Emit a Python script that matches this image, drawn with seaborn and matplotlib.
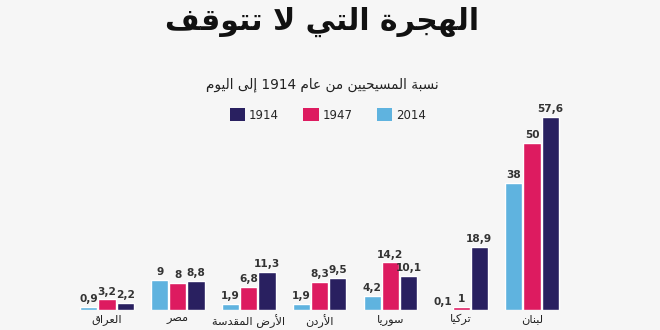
import re
import matplotlib
matplotlib.use("Agg")
import matplotlib.pyplot as plt
from matplotlib.patches import Patch
import seaborn as sns
import pandas as pd

# ---------------- data ----------------
countries = ["العراق", "مصر", "الأرض المقدسة", "الأردن", "سوريا", "تركيا", "لبنان"]
years = ["2014", "1947", "1914"]
v2014 = [0.9, 9, 1.9, 1.9, 4.2, 0.1, 38]
v1947 = [3.2, 8, 6.8, 8.3, 14.2, 1, 50]
v1914 = [2.2, 8.8, 11.3, 9.5, 10.1, 18.9, 57.6]
title_text = "الهجرة التي لا تتوقف"
subtitle_text = "نسبة المسيحيين من عام 1914 إلى اليوم"
legend_order = ["1914", "1947", "2014"]

colors = {"2014": "#5fb3df", "1947": "#dd1b60", "1914": "#292060"}

# ------------- minimal Arabic shaping + RTL ordering -------------
FORMS = {
    "ا": (0xFE8D, 0xFE8E), "أ": (0xFE83, 0xFE84), "إ": (0xFE87, 0xFE88),
    "ب": (0xFE8F, 0xFE90, 0xFE91, 0xFE92), "ة": (0xFE93, 0xFE94),
    "ت": (0xFE95, 0xFE96, 0xFE97, 0xFE98), "ج": (0xFE9D, 0xFE9E, 0xFE9F, 0xFEA0),
    "ح": (0xFEA1, 0xFEA2, 0xFEA3, 0xFEA4), "د": (0xFEA9, 0xFEAA),
    "ر": (0xFEAD, 0xFEAE), "س": (0xFEB1, 0xFEB2, 0xFEB3, 0xFEB4),
    "ص": (0xFEB9, 0xFEBA, 0xFEBB, 0xFEBC), "ض": (0xFEBD, 0xFEBE, 0xFEBF, 0xFEC0),
    "ع": (0xFEC9, 0xFECA, 0xFECB, 0xFECC), "ف": (0xFED1, 0xFED2, 0xFED3, 0xFED4),
    "ق": (0xFED5, 0xFED6, 0xFED7, 0xFED8), "ك": (0xFED9, 0xFEDA, 0xFEDB, 0xFEDC),
    "ل": (0xFEDD, 0xFEDE, 0xFEDF, 0xFEE0), "م": (0xFEE1, 0xFEE2, 0xFEE3, 0xFEE4),
    "ن": (0xFEE5, 0xFEE6, 0xFEE7, 0xFEE8), "ه": (0xFEE9, 0xFEEA, 0xFEEB, 0xFEEC),
    "و": (0xFEED, 0xFEEE), "ى": (0xFEEF, 0xFEF0, 0xFBE8, 0xFBE9),
    "ي": (0xFEF1, 0xFEF2, 0xFEF3, 0xFEF4),
}
LAMALEF = {"ا": (0xFEFB, 0xFEFC), "أ": (0xFEF7, 0xFEF8), "إ": (0xFEF9, 0xFEFA)}


def shape(text):
    out = []
    i, n = 0, len(text)
    while i < n:
        c = text[i]
        prev = text[i - 1] if i > 0 else None
        nxt = text[i + 1] if i + 1 < n else None
        if c not in FORMS:
            out.append(c)
            i += 1
            continue
        cp = prev in FORMS and len(FORMS[prev]) == 4
        if c == "ل" and nxt in LAMALEF:
            out.append(chr(LAMALEF[nxt][1 if cp else 0]))
            i += 2
            continue
        f = FORMS[c]
        cn = len(f) == 4 and nxt in FORMS
        if cp and cn:
            out.append(chr(f[3]))
        elif cp:
            out.append(chr(f[1]))
        elif cn:
            out.append(chr(f[2]))
        else:
            out.append(chr(f[0]))
        i += 1
    vis = "".join(out)[::-1]
    return re.sub(r"[0-9]+", lambda m: m.group(0)[::-1], vis)


# ---------------- figure ----------------
bg = "#f6f6f6"
sns.set_theme(style="white")
plt.rcParams["font.family"] = ["DejaVu Sans"]

fig = plt.figure(figsize=(6.6, 3.3), dpi=100, facecolor=bg)
ax = fig.add_axes([0, 20 / 330, 1, 210 / 330])
ax.set_facecolor(bg)

labels_vis = [shape(c) for c in countries]
df = pd.DataFrame({
    "country": labels_vis * 3,
    "year": ["2014"] * 7 + ["1947"] * 7 + ["1914"] * 7,
    "value": v2014 + v1947 + v1914,
})

sns.barplot(data=df, x="country", y="value", hue="year", hue_order=years,
            palette=colors, order=labels_vis, width=0.77, gap=0.05,
            saturation=1, legend=False, ax=ax, errorbar=None)

for cont, vals in zip(ax.containers, [v2014, v1947, v1914]):
    ax.bar_label(cont, labels=[f"{v:g}".replace(".", ",") for v in vals],
                 padding=2, fontsize=7.6, fontweight="bold", color="#333333")

ax.set_xlim(-1.511, 7.807)
ax.set_ylim(0, 62.7)
ax.set_xlabel("")
ax.set_ylabel("")
ax.set_yticks([])
ax.tick_params(axis="x", length=0, pad=3, labelsize=8.2, labelcolor="#222222")
for s in ax.spines.values():
    s.set_visible(False)

fig.text(0.488, 0.935, shape(title_text), ha="center", va="center",
         fontsize=21.5, fontweight="bold", color="#111111")
fig.text(0.488, 0.742, shape(subtitle_text), ha="center", va="center",
         fontsize=9.8, color="#222222")

handles = [Patch(facecolor=colors[y], edgecolor="none") for y in legend_order]
fig.legend(handles, legend_order, ncol=3, loc="center",
           bbox_to_anchor=(0.497, 0.652), frameon=False, fontsize=8.5,
           handlelength=1.3, handleheight=1.3, handletextpad=0.35,
           columnspacing=2.05, borderpad=0)

fig.savefig("out.png", dpi=100, facecolor=bg)
